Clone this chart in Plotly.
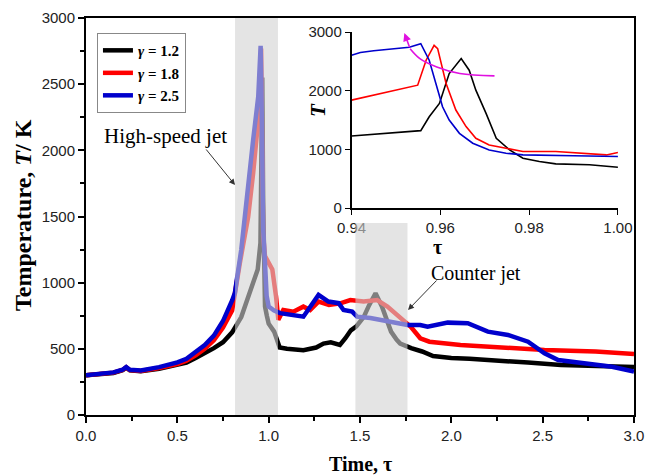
import plotly.graph_objects as go

# ---------------- main data ----------------
t_black = [0, 0.05, 0.1, 0.15, 0.2, 0.22, 0.24, 0.3, 0.4, 0.5, 0.55, 0.6, 0.65, 0.7, 0.75, 0.8, 0.85, 0.9,
           0.94, 0.955, 0.96, 0.965, 0.97, 0.975, 0.98, 0.99, 1.0, 1.03, 1.06, 1.1, 1.19, 1.26, 1.3, 1.34,
           1.39, 1.42, 1.45, 1.48, 1.52, 1.55, 1.585, 1.62, 1.65, 1.67, 1.7, 1.72, 1.78, 1.84, 1.9, 2.0,
           2.1, 2.24, 2.42, 2.6, 2.79, 3.0]
T_black = [300, 305, 310, 318, 338, 358, 338, 330, 350, 375, 395, 430, 465, 505, 550, 625, 740, 930,
           1100, 1300, 1780, 2550, 1600, 1000, 820, 750, 690, 630, 510, 500, 490, 510, 540, 550,
           530, 580, 640, 670, 740, 830, 920, 820, 700, 630, 570, 540, 505, 480, 445, 430,
           425, 416, 396, 378, 370, 362]

t_red = [0, 0.05, 0.1, 0.15, 0.2, 0.22, 0.24, 0.3, 0.4, 0.5, 0.55, 0.6, 0.65, 0.7, 0.75, 0.8, 0.842, 0.888,
         0.915, 0.94, 0.955, 0.9586, 0.962, 0.965, 0.97, 0.98, 1.0, 1.02, 1.04, 1.053, 1.08, 1.135, 1.19,
         1.227, 1.273, 1.33, 1.392, 1.447, 1.52, 1.594, 1.65, 1.72, 1.778, 1.83, 1.88, 2.05, 2.33, 2.51,
         2.79, 3.0]
T_red = [300, 305, 310, 320, 340, 360, 340, 333, 355, 385, 410, 450, 500, 565, 660, 790, 1146, 1499,
         1827, 2150, 2400, 2770, 2100, 1700, 1350, 1200, 1150, 1100, 900, 720, 794, 781, 819,
         794, 857, 832, 844, 869, 857, 869, 819, 731, 667, 580, 554, 529, 504, 491,
         479, 461]

t_blue = [0, 0.05, 0.1, 0.15, 0.2, 0.22, 0.24, 0.3, 0.4, 0.5, 0.55, 0.6, 0.65, 0.7, 0.75, 0.8, 0.815, 0.85,
          0.879, 0.915, 0.943, 0.952, 0.956, 0.96, 0.965, 0.97, 0.98, 0.989, 1.0, 1.03, 1.062, 1.19, 1.273,
          1.327, 1.383, 1.41, 1.457, 1.484, 1.557, 1.65, 1.76, 1.83, 1.87, 1.98, 2.09, 2.2, 2.31, 2.42,
          2.51, 2.585, 2.73, 2.88, 3.0]
T_blue = [300, 305, 312, 322, 342, 362, 342, 336, 362, 398, 425, 475, 528, 600, 710, 865, 922, 1250,
          1650, 2079, 2406, 2633, 2790, 2500, 1900, 1400, 1148, 900, 820, 790, 770, 743, 907,
          857, 845, 793, 781, 743, 733, 705, 680, 680, 667, 698, 693, 630, 605, 554,
          466, 416, 391, 365, 328]

# ---------------- inset data ----------------
ti_black = [0.94, 0.9556, 0.9575, 0.9598, 0.962, 0.9647, 0.9665, 0.968, 0.9703, 0.9726, 0.9756, 0.9786,
            0.9823, 0.986, 0.9936, 1.0]
Ti_black = [1228, 1319, 1556, 1783, 2292, 2547, 2349, 2009, 1613, 1189, 990, 849, 792, 753, 736, 696]

ti_red = [0.94, 0.9549, 0.9568, 0.9586, 0.9594, 0.9613, 0.9635, 0.9658, 0.968, 0.971, 0.9748, 0.9786,
          0.986, 0.99, 0.9974, 1.0]
Ti_red = [1839, 2094, 2519, 2773, 2716, 2122, 1670, 1387, 1189, 1075, 1019, 962, 962, 945, 905, 945]

ti_blue = [0.94, 0.942, 0.945, 0.95, 0.953, 0.9556, 0.9575, 0.959, 0.9605, 0.962, 0.9643, 0.9673,
           0.971, 0.9748, 0.9786, 0.99, 1.0]
Ti_blue = [2604, 2650, 2680, 2720, 2740, 2801, 2519, 2122, 1726, 1500, 1273, 1104, 990, 934, 905, 890, 877]

ti_arrow = [0.9722, 0.9644, 0.9592, 0.9554, 0.9532]
Ti_arrow = [2252, 2292, 2405, 2547, 2716]

legend_names = ["<b><i>γ</i> = 1.2</b>", "<b><i>γ</i> = 1.8</b>", "<b><i>γ</i> = 2.5</b>"]
colors = ["#000000", "#ff0000", "#0000cc"]

x_ticks = [0.0, 0.5, 1.0, 1.5, 2.0, 2.5, 3.0]
y_ticks = [0, 500, 1000, 1500, 2000, 2500, 3000]
xi_ticks = [0.94, 0.96, 0.98, 1.00]
yi_ticks = [0, 1000, 2000, 3000]

shade1 = (0.816, 1.051, 0, 3000)
shade2 = (1.475, 1.76, 0, 1450)

fig = go.Figure()
for tt, TT, name, c in zip([t_black, t_red, t_blue], [T_black, T_red, T_blue], legend_names, colors):
    fig.add_trace(go.Scatter(x=tt, y=TT, mode="lines", name=name,
                             line=dict(color=c, width=4.5), xaxis="x", yaxis="y"))

for tt, TT, c in zip([ti_black, ti_red, ti_blue], [Ti_black, Ti_red, Ti_blue], colors):
    fig.add_trace(go.Scatter(x=tt, y=TT, mode="lines", showlegend=False,
                             line=dict(color=c, width=1.6), xaxis="x2", yaxis="y2"))
fig.add_trace(go.Scatter(x=ti_arrow, y=Ti_arrow, mode="lines", showlegend=False,
                         line=dict(color="#e010e0", width=1.6, shape="spline"), xaxis="x2", yaxis="y2"))

tickfont = dict(family="Liberation Sans, Arial", size=15, color="#222")
serif = "Liberation Serif, Times New Roman"

fig.update_layout(
    template="none",
    width=649, height=476,
    margin=dict(l=86, r=15, t=18, b=61, autoexpand=False),
    paper_bgcolor="white", plot_bgcolor="white",
    showlegend=True,
    legend=dict(x=0.02, y=0.962, xanchor="left", yanchor="top",
                bordercolor="#888", borderwidth=1, bgcolor="white",
                font=dict(family=serif, size=15, color="black"),
                tracegroupgap=0, itemwidth=30),
    xaxis=dict(domain=[0, 1], range=[0, 3.0], tickvals=x_ticks, ticktext=[f"{v:.1f}" for v in x_ticks],
               automargin=False,
               showline=True, linecolor="black", linewidth=2, mirror=True,
               ticks="outside", ticklen=6, tickwidth=1.5, tickcolor="black",
               minor=dict(dtick=0.25, ticks="outside", ticklen=4, tickwidth=1.5, tickcolor="black"),
               showgrid=False, zeroline=False, tickfont=tickfont),
    yaxis=dict(domain=[0, 1], range=[0, 3000], tickvals=y_ticks, automargin=False,
               showline=True, linecolor="black", linewidth=2, mirror=True,
               ticks="outside", ticklen=6, tickwidth=1.5, tickcolor="black",
               minor=dict(dtick=250, ticks="outside", ticklen=4, tickwidth=1.5, tickcolor="black"),
               showgrid=False, zeroline=False, tickfont=tickfont),
    xaxis2=dict(domain=[0.4845, 0.9707], anchor="y2", range=[0.94, 1.0], tickvals=xi_ticks,
                ticktext=[f"{v:.2f}" for v in xi_ticks], automargin=False,
                showline=True, linecolor="black", linewidth=1.5, mirror=False,
                ticks="outside", ticklen=5, tickwidth=1.2, tickcolor="black",
                showgrid=False, zeroline=False, tickfont=tickfont),
    yaxis2=dict(domain=[0.5214, 0.9647], anchor="x2", range=[0, 3000], tickvals=yi_ticks,
                automargin=False,
                showline=True, linecolor="black", linewidth=1.5, mirror=False,
                ticks="outside", ticklen=5, tickwidth=1.2, tickcolor="black",
                showgrid=False, zeroline=False, tickfont=tickfont),
)

for (x0, x1, y0, y1) in [shade1, shade2]:
    fig.add_shape(type="rect", xref="x", yref="y", x0=x0, x1=x1, y0=y0, y1=y1,
                  fillcolor="#d2d2d2", opacity=0.6, line=dict(width=0), layer="above")


def px_x(p):
    return (p - 86) / 548


def px_y(p):
    return (415 - p) / 397


def label(text, x, y, size, angle=0):
    fig.add_annotation(text=text, xref="paper", yref="paper", x=px_x(x), y=px_y(y),
                       xanchor="center", yanchor="middle", textangle=angle, showarrow=False,
                       font=dict(family=serif, size=size, color="black"))


# axis titles
label("<b>Temperature, <i>T</i>/ K</b>", 23, 215, 24, -90)
label("<b>Time, τ</b>", 360, 464, 20)
# inset titles
label("<b><i>T</i></b>", 318, 110, 21, -90)
label("<b>τ</b>", 437, 247, 20)
# jet labels
label("High-speed jet", 165, 136, 21)
label("Counter jet", 476, 273, 20)

fig.add_annotation(x=px_x(235), y=px_y(185), ax=205 - 235, ay=148 - 185,
                   xref="paper", yref="paper", text="",
                   showarrow=True, arrowhead=2, arrowsize=1.2, arrowwidth=1, arrowcolor="#333")
fig.add_annotation(x=px_x(408), y=px_y(310), ax=438 - 408, ay=279 - 310,
                   xref="paper", yref="paper", text="",
                   showarrow=True, arrowhead=2, arrowsize=1.2, arrowwidth=1, arrowcolor="#333")
# magenta arrow head in inset
fig.add_annotation(x=0.9519, y=2982, ax=ti_arrow[-1], ay=Ti_arrow[-1], xref="x2", yref="y2",
                   axref="x2", ayref="y2", text="", showarrow=True, arrowhead=2, arrowsize=1,
                   arrowwidth=1.6, arrowcolor="#e010e0")

fig.write_html("out.html")
